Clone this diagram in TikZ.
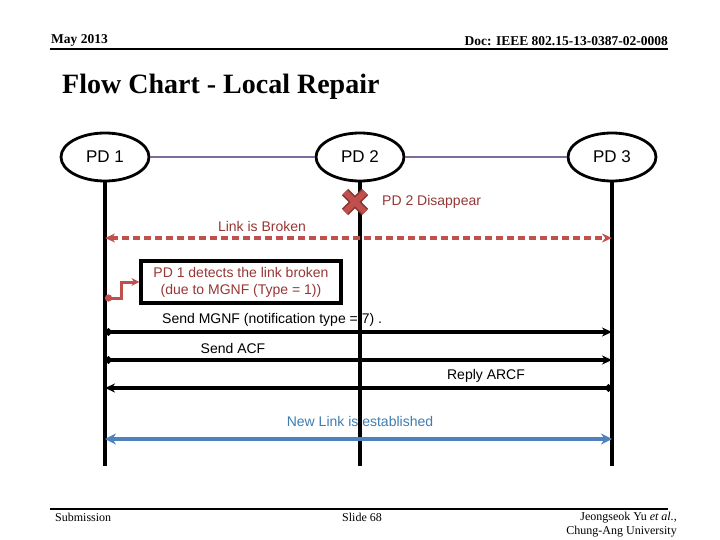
\documentclass[tikz,border=0pt]{standalone}
\usepackage{fontspec}
\setmainfont{Liberation Serif}
\newfontfamily\arial{Liberation Sans}
\usetikzlibrary{arrows.meta,shapes.geometric,calc}
\definecolor{lnkpurple}{HTML}{7E6A9E}
\definecolor{brkred}{HTML}{C0504D}
\definecolor{txtred}{HTML}{953735}
\definecolor{newblue}{HTML}{4F81BD}
\definecolor{txtblue}{HTML}{3E7CB1}
\definecolor{xdark}{HTML}{8C3532}
\tikzset{
  pd/.style={ellipse, draw, line width=2.8pt, minimum width=88pt, minimum height=48pt, inner sep=0pt, font=\arial\fontsize{17}{20}\selectfont},
  lifeline/.style={line width=3.1pt},
  msg/.style={line width=3.1pt, {Circle[length=7pt]}-{Stealth[length=10pt,width=9pt]}},
  lbl/.style={font=\arial\fontsize{14}{16}\selectfont, inner sep=0pt},
  hdr/.style={font=\bfseries\fontsize{13.5}{15}\selectfont, inner sep=0pt},
  ftr/.style={font=\fontsize{12}{14}\selectfont, inner sep=0pt, align=right},
}
\begin{document}
\begin{tikzpicture}[x=1pt,y=-1pt]
\useasboundingbox (0,0) rectangle (720,540);
% header
\node[hdr, anchor=base west] (may) at (51,44) {May 2013};
\node[hdr, anchor=base east] (doc) at (668,46) {Doc: IEEE 802.15-13-0387-02-0008};
\draw[line width=2.4pt] (50,49) -- (668,49);
\node[font=\bfseries\fontsize{28}{30}\selectfont, anchor=base west, inner sep=0pt] (title) at (62,94) {Flow Chart - Local Repair};
% footer
\draw[line width=2.4pt] (50,509) -- (668,509);
\node[ftr, anchor=base west] (sub) at (55,521) {Submission};
\node[ftr, anchor=base] (slide) at (362,521) {Slide 68};
\node[ftr, anchor=north east] (auth) at (677,512) {Jeongseok Yu \textit{et al.},\\Chung-Ang University};
% entities
\node[pd] (p1) at (105,157) {PD 1};
\node[pd] (p2) at (360,157) {PD 2};
\node[pd] (p3) at (612,157) {PD 3};
\draw[lnkpurple, line width=2.8pt] (p1) -- (p2);
\draw[lnkpurple, line width=2.8pt] (p2) -- (p3);
% texts
\node[lbl, text=txtred, anchor=west] (dis) at (382,202) {PD 2 Disappear};
\node[lbl, text=txtred] (brk) at (262,226) {Link is Broken};
\node[lbl, anchor=west] (mgnf) at (162,320) {Send MGNF (notification type = 7) .};
\node[lbl] (acf) at (233,348) {Send ACF};
\node[lbl] (arcf) at (486,376) {Reply ARCF};
\node[lbl, text=txtblue] (newl) at (360,421) {New Link is established};
% lifelines
\coordinate (e1) at (105,466);
\coordinate (e2) at (360,466);
\coordinate (e3) at (612,466);
\draw[lifeline] (p1.south) -- (e1);
\draw[lifeline] (p2.south) -- (e2);
\draw[lifeline] (p3.south) -- (e3);
% PD2 disappear cross
\coordinate (xc) at (355,202);
\foreach \c/\w in {xdark/9pt, brkred/6pt}{
  \draw[\c, line width=\w] ($(xc)+(-10,-10)$) -- ($(xc)+(10,10)$);
  \draw[\c, line width=\w] ($(xc)+(-10,10)$) -- ($(xc)+(10,-10)$);
}
% link broken
\coordinate (b1) at (105,238);
\coordinate (b3) at (612,238);
\draw[brkred, line width=3.2pt, dash pattern=on 7pt off 4pt, {Stealth[length=10pt,width=9pt]}-{Stealth[length=10pt,width=9pt]}] (b1) -- (b3);
% detection box
\node[draw, line width=3.2pt, text=txtred, font=\arial\fontsize{14}{17}\selectfont, align=center, minimum width=200pt, minimum height=42pt, inner sep=2pt] (box) at (241,282) {PD 1 detects the link broken\\(due to MGNF (Type = 1))};
\coordinate (d1) at (105,298);
\coordinate (d2) at (121,298);
\coordinate (d3) at (121,282);
\draw[brkred, line width=3pt, {Circle[length=7pt]}-{Stealth[length=8pt,width=8pt]}] (d1) -- (d2) -- (d3) -- (box.west);
% messages
\coordinate (m1) at (105,332); \coordinate (m3) at (612,332);
\draw[msg] (m1) -- (m3);
\coordinate (a1) at (105,360); \coordinate (a3) at (612,360);
\draw[msg] (a1) -- (a3);
\coordinate (r1) at (105,388); \coordinate (r3) at (612,388);
\draw[msg] (r3) -- (r1);
% new link
\coordinate (n1) at (105,439); \coordinate (n3) at (612,439);
\draw[newblue, line width=4pt, {Stealth[length=11pt,width=11pt]}-{Stealth[length=11pt,width=11pt]}] (n1) -- (n3);
\end{tikzpicture}
\end{document}
